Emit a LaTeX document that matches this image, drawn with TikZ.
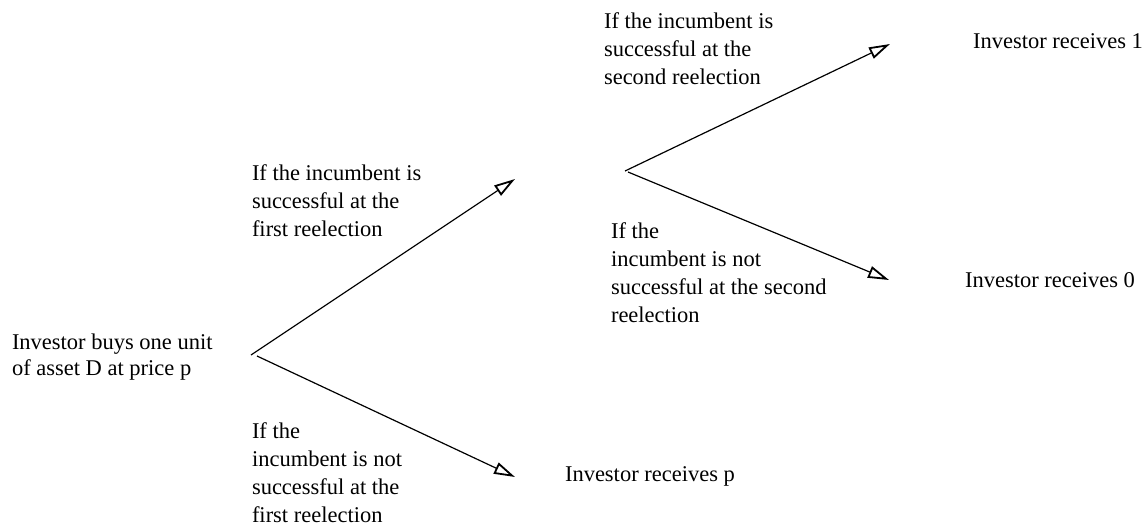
\documentclass[tikz,border=0pt]{standalone}
\usepackage{fontspec}
\setmainfont{Liberation Serif}
\usetikzlibrary{arrows.meta, positioning}
\tikzset{
  outcome/.style={anchor=north west, inner sep=0pt, outer sep=0pt, align=left,
                  font=\fontsize{11.25}{14}\selectfont},
  branch/.style={-{Triangle[open, length=10.5pt, width=6pt, line width=0.9pt]},
                 line width=0.6pt},
}

\begin{document}
\begin{tikzpicture}[x=0.5pt, y=-0.5pt]
    \useasboundingbox (0,0) rectangle (1144,526);
    % texts
    \node[outcome, font=\fontsize{11.25}{13}\selectfont] (buy) at (12,334) {Investor buys one unit\\of asset D at price p};
    \node[outcome] (win1) at (252,165) {If the incumbent is\\successful at the\\first reelection};
    \node[outcome] (lose1) at (252,423) {If the\\incumbent is not\\successful at the\\first reelection};
    \node[outcome] (recp) at (565,467) {Investor receives p};
    \node[outcome] (win2) at (604,13) {If the incumbent is\\successful at the\\second reelection};
    \node[outcome] (lose2) at (611,223) {If the\\incumbent is not\\successful at the second\\reelection};
    \node[outcome] (rec1) at (973,34) {Investor receives 1};
    \node[outcome] (rec0) at (965,273) {Investor receives 0};
    % branch points and arrow tips
    \coordinate (fork1u) at (251,355);
    \coordinate (fork1d) at (257,356);
    \coordinate (tip1u) at (515,179);
    \coordinate (tip1d) at (515,477);
    \coordinate (fork2u) at (625,171);
    \coordinate (fork2d) at (628,172);
    \coordinate (tip2u) at (890,44);
    \coordinate (tip2d) at (889,280);
    \draw[branch] (fork1u) -- (tip1u);
    \draw[branch] (fork1d) -- (tip1d);
    \draw[branch] (fork2u) -- (tip2u);
    \draw[branch] (fork2d) -- (tip2d);
\end{tikzpicture}
\end{document}
